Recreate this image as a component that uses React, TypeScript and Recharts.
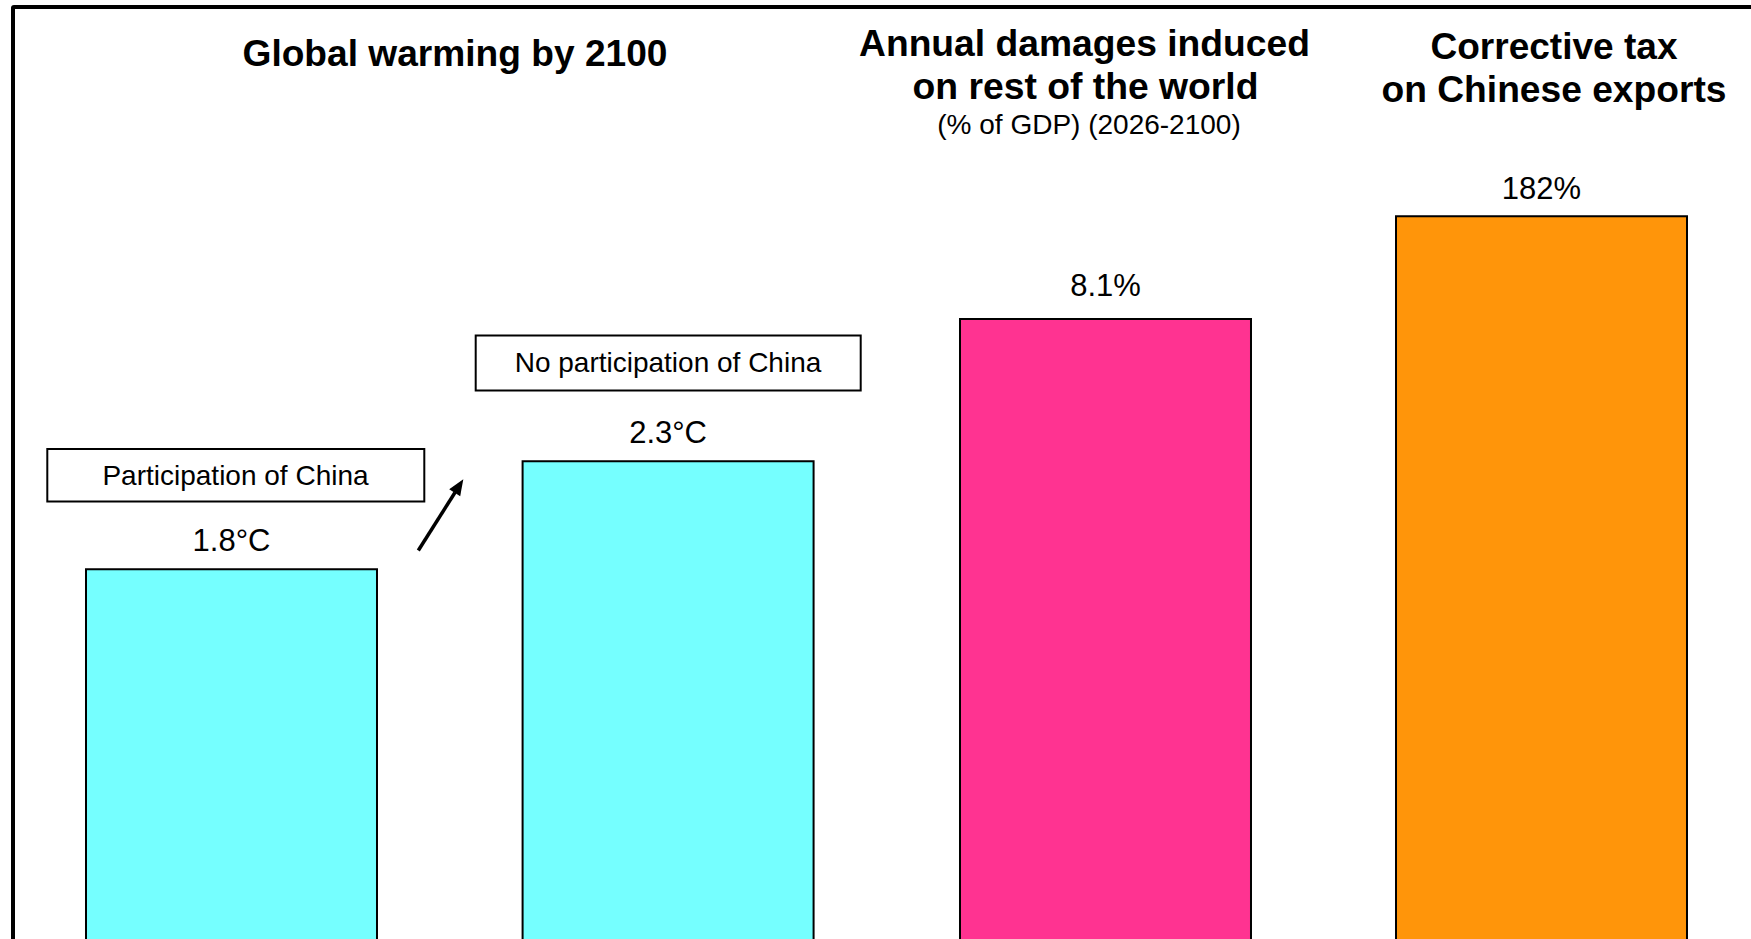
import React from 'react'
import { BarChart, Bar, XAxis, YAxis, LabelList } from 'recharts'

// Global warming by 2100 (°C)
const WARMING_SCENARIOS = ['Participation of China', 'No participation of China']
const WARMING_VALUES = [1.8, 2.3]

// Annual damages induced on rest of the world (% of GDP, 2026-2100)
const DAMAGE_CATEGORIES = ['Annual damages induced on rest of the world']
const DAMAGE_VALUES = [8.1]

// Corrective tax on Chinese exports (%)
const TAX_CATEGORIES = ['Corrective tax on Chinese exports']
const TAX_VALUES = [182]

const CYAN = '#75FFFF'
const PINK = '#FF3391'
const ORANGE = '#FF950A'
const FONT = '"Liberation Sans", Arial, Helvetica, sans-serif'

const BAND = 436.6
const BAR_WIDTH = 291
const CHART_TOP = 94
const PLOT_HEIGHT = 864

interface PanelProps {
  names: string[]
  values: number[]
  unit: string
  color: string
  max: number
  left: number
  labelOffset: number
}

function Panel({ names, values, unit, color, max, left, labelOffset }: PanelProps) {
  const data = names.map((name, i) => ({ name, value: values[i] }))
  return (
    <div style={{ position: 'absolute', left, top: CHART_TOP }}>
      <BarChart
        width={BAND * names.length}
        height={PLOT_HEIGHT}
        data={data}
        margin={{ top: 0, right: 0, bottom: 0, left: 0 }}
      >
        <XAxis dataKey="name" hide />
        <YAxis hide domain={[0, max]} allowDataOverflow />
        <Bar
          dataKey="value"
          fill={color}
          stroke="#000000"
          strokeWidth={2}
          barSize={BAR_WIDTH}
          isAnimationActive={false}
        >
          <LabelList
            dataKey="value"
            position="top"
            offset={labelOffset}
            formatter={(v: any) => `${v}${unit}`}
            fill="#000000"
            fontSize={31}
            fontFamily={FONT}
          />
        </Bar>
      </BarChart>
    </div>
  )
}

const titleStyle = { fontFamily: FONT, fontWeight: 700, fontSize: 37, fill: '#000' }
const plainStyle = { fontFamily: FONT, fontSize: 28, fill: '#000' }

export default function App() {
  return (
    <div
      style={{
        position: 'fixed',
        left: 0,
        top: 0,
        width: 1751,
        height: 939,
        overflow: 'hidden',
        background: '#FFFFFF',
      }}
    >
      <div
        style={{
          position: 'absolute',
          left: 11,
          top: 5,
          width: 1800,
          height: 1000,
          border: '4px solid #000',
          borderRadius: 3,
          boxSizing: 'border-box',
        }}
      />

      <Panel
        names={WARMING_SCENARIOS}
        values={WARMING_VALUES}
        unit="°C"
        color={CYAN}
        max={4}
        left={13.4}
        labelOffset={18}
      />
      <Panel
        names={DAMAGE_CATEGORIES}
        values={DAMAGE_VALUES}
        unit="%"
        color={PINK}
        max={10.95}
        left={886.7}
        labelOffset={23}
      />
      <Panel
        names={TAX_CATEGORIES}
        values={TAX_VALUES}
        unit="%"
        color={ORANGE}
        max={212}
        left={1323.3}
        labelOffset={17}
      />

      <svg
        width={1751}
        height={939}
        style={{ position: 'absolute', left: 0, top: 0, pointerEvents: 'none' }}
      >
        <text x={455} y={66} textAnchor="middle" textLength={425} lengthAdjust="spacingAndGlyphs" style={titleStyle}>
          Global warming by 2100
        </text>
        <text x={1084.5} y={56} textAnchor="middle" textLength={451} lengthAdjust="spacingAndGlyphs" style={titleStyle}>
          Annual damages induced
        </text>
        <text x={1085.5} y={99} textAnchor="middle" textLength={346} lengthAdjust="spacingAndGlyphs" style={titleStyle}>
          on rest of the world
        </text>
        <text x={1089} y={134} textAnchor="middle" style={plainStyle}>
          (% of GDP) (2026-2100)
        </text>
        <text x={1554} y={59} textAnchor="middle" textLength={247} lengthAdjust="spacingAndGlyphs" style={titleStyle}>
          Corrective tax
        </text>
        <text x={1554} y={102} textAnchor="middle" textLength={345} lengthAdjust="spacingAndGlyphs" style={titleStyle}>
          on Chinese exports
        </text>

        <rect x={475.7} y={335.5} width={385} height={55} fill="#FFFFFF" stroke="#000" strokeWidth={2} />
        <text x={668} y={372} textAnchor="middle" style={plainStyle}>
          No participation of China
        </text>

        <rect x={47.3} y={449} width={377} height={52.5} fill="#FFFFFF" stroke="#000" strokeWidth={2} />
        <text x={235.5} y={484.5} textAnchor="middle" style={plainStyle}>
          Participation of China
        </text>

        <line x1={418.3} y1={550.5} x2={455} y2={492.5} stroke="#000" strokeWidth={3.5} />
        <polygon points="463.3,479.3 460.2,496.3 449.2,489.3" fill="#000" />
      </svg>
    </div>
  )
}
